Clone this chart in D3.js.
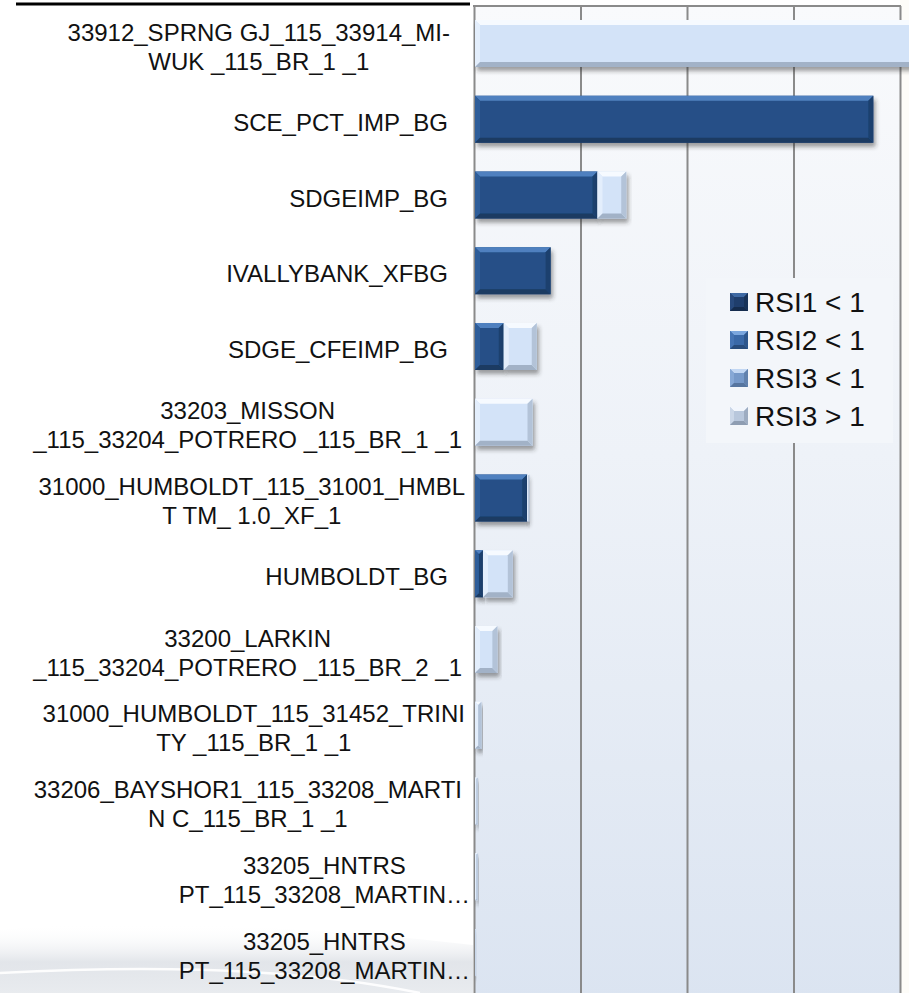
<!DOCTYPE html>
<html>
<head>
<meta charset="utf-8">
<script src="https://cdn.jsdelivr.net/npm/d3@7/dist/d3.min.js"></script>
<style>
  html, body { margin: 0; padding: 0; background: #ffffff; }
  svg { display: block; }
  text { font-family: "Liberation Sans", Arial, sans-serif; fill: #111; }
</style>
</head>
<body>
<svg id="chart" width="909" height="993"></svg>
<script>
// Branch / transformer names (line breaks follow the wrapped labels)
const categories = [
  "33912_SPRNG GJ_115_33914_MI-\nWUK  _115_BR_1 _1",
  "SCE_PCT_IMP_BG",
  "SDGEIMP_BG",
  "IVALLYBANK_XFBG",
  "SDGE_CFEIMP_BG",
  "33203_MISSON\n_115_33204_POTRERO _115_BR_1 _1",
  "31000_HUMBOLDT_115_31001_HMBL\nT TM_ 1.0_XF_1",
  "HUMBOLDT_BG",
  "33200_LARKIN\n_115_33204_POTRERO _115_BR_2 _1",
  "31000_HUMBOLDT_115_31452_TRINI\nTY _115_BR_1 _1",
  "33206_BAYSHOR1_115_33208_MARTI\nN C_115_BR_1 _1",
  "33205_HNTRS\nPT_115_33208_MARTIN\u2026",
  "33205_HNTRS\nPT_115_33208_MARTIN\u2026"
];

// Stacked series
const seriesNames = ["RSI1 < 1", "RSI2 < 1", "RSI3 < 1", "RSI3 > 1"];
const rsi1Below  = [0, 37.4, 11.5, 7.1, 2.7, 0, 4.9, 0.75, 0, 0, 0, 0, 0];
const rsi2Below  = [0, 0, 0, 0, 0, 0, 0, 0, 0, 0, 0, 0, 0];
const rsi3Below  = [0, 0, 0, 0, 0, 0, 0, 0, 0, 0, 0, 0, 0];
const rsi3Above  = [46, 0, 2.7, 0, 3.1, 5.4, 0.2, 2.8, 2.1, 0.6, 0.25, 0.25, 0.1];

// Value-axis gridline positions
const xTicks = [0, 10, 20, 30, 40];

// Right edge of each category label block
const labelRight = [450, 448, 448, 448, 448, 462, 465, 448, 462, 465, 462, 470, 470];

const rows = categories.map((c, i) => ({
  idx: i,
  "RSI1 < 1": rsi1Below[i],
  "RSI2 < 1": rsi2Below[i],
  "RSI3 < 1": rsi3Below[i],
  "RSI3 > 1": rsi3Above[i]
}));

// Fill shades per series: base, top, left, bottom, right
const palette = {
  "RSI1 < 1": { base: "#255087", top: "#4f80bf", left: "#2e5d99", bottom: "#1a3a62", right: "#1c416e" },
  "RSI2 < 1": { base: "#3d6daf", top: "#6d9ad6", left: "#4678bb", bottom: "#2b5184", right: "#2f5a94" },
  "RSI3 < 1": { base: "#7ea3d4", top: "#b0cbef", left: "#8cb0de", bottom: "#5d7ea9", right: "#6789b6" },
  "RSI3 > 1": { base: "#d3e3f8", top: "#f6faff", left: "#e3eefc", bottom: "#a2b2c7", right: "#b3c3d8" }
};
const legendPalette = {
  "RSI1 < 1": { base: "#1f3e6c", top: "#3e69a3", left: "#27497c", bottom: "#152c4d", right: "#183358" },
  "RSI2 < 1": { base: "#3a69a8", top: "#7aa6de", left: "#4574b4", bottom: "#284c7c", right: "#2d568c" },
  "RSI3 < 1": { base: "#7699c9", top: "#c2d7f3", left: "#86a8d6", bottom: "#56759f", right: "#6181ad" },
  "RSI3 > 1": { base: "#b8c7dc", top: "#f2f6fc", left: "#cbd7e8", bottom: "#8e9db2", right: "#9dacc1" }
};

const svg = d3.select("#chart");
const W = 909, H = 993;
const plot = { left: 474, right: 900, top: 6, bottom: 1000 };

const defs = svg.append("defs");
const bg = defs.append("linearGradient").attr("id", "plotBg")
  .attr("x1", 0).attr("y1", 0).attr("x2", 0).attr("y2", 1);
bg.append("stop").attr("offset", "0%").attr("stop-color", "#f9fafc");
bg.append("stop").attr("offset", "45%").attr("stop-color", "#eef2f8");
bg.append("stop").attr("offset", "100%").attr("stop-color", "#dbe4f1");

const swoosh = defs.append("linearGradient").attr("id", "swoosh")
  .attr("x1", 0).attr("y1", 0).attr("x2", 0).attr("y2", 1);
swoosh.append("stop").attr("offset", "0%").attr("stop-color", "#ffffff").attr("stop-opacity", 0);
swoosh.append("stop").attr("offset", "55%").attr("stop-color", "#d9dde3").attr("stop-opacity", 0.75);
swoosh.append("stop").attr("offset", "100%").attr("stop-color", "#e6e9ed").attr("stop-opacity", 0.9);

const shadow = defs.append("filter").attr("id", "barShadow")
  .attr("x", "-20%").attr("y", "-20%").attr("width", "140%").attr("height", "160%");
shadow.append("feDropShadow").attr("dx", 2).attr("dy", 4).attr("stdDeviation", 2.2)
  .attr("flood-color", "#2b2b2b").attr("flood-opacity", 0.45);

// Page background
svg.append("rect").attr("width", W).attr("height", H).attr("fill", "#ffffff");
svg.append("rect").attr("x", plot.right).attr("y", 0).attr("width", W - plot.right).attr("height", H)
  .attr("fill", "#fdfcf8");

// Soft decorative swoosh at bottom-left
svg.append("path")
  .attr("d", "M0,930 C120,918 300,925 473,945 L473,993 L0,993 Z")
  .attr("fill", "url(#swoosh)");
svg.append("path")
  .attr("d", "M0,973 C150,965 300,968 420,993")
  .attr("fill", "none").attr("stroke", "#ffffff").attr("stroke-width", 2.5).attr("opacity", 0.9);

// Heading rule
svg.append("line").attr("x1", 16).attr("x2", 470).attr("y1", 4).attr("y2", 4)
  .attr("stroke", "#000").attr("stroke-width", 3);

// Plot area
svg.append("rect").attr("x", plot.left).attr("y", plot.top)
  .attr("width", plot.right - plot.left).attr("height", plot.bottom - plot.top)
  .attr("fill", "url(#plotBg)");

const x = d3.scaleLinear().domain([0, 40]).range([plot.left, plot.right]);
const y = d3.scaleBand().domain(d3.range(categories.length))
  .range([5.6, 990.4]).paddingInner(0.38).paddingOuter(0.19);

// Vertical gridlines (value axis, labels hidden)
const grid = svg.append("g").attr("transform", `translate(0,${plot.top})`)
  .call(d3.axisTop(x).tickValues(xTicks).tickSize(-(plot.bottom - plot.top)).tickFormat(""));
grid.select(".domain").remove();
grid.selectAll(".tick line").attr("stroke", "#8a8a8a").attr("stroke-width", 2);
svg.append("line").attr("x1", plot.left - 1).attr("x2", plot.right + 1)
  .attr("y1", plot.top).attr("y2", plot.top).attr("stroke", "#8a8a8a").attr("stroke-width", 2);

// Beveled bar segment
function bevelRect(g, x0, y0, w, h, pal, bmax) {
  const b = Math.max(0, Math.min(bmax, w / 2, h / 2));
  g.append("rect").attr("x", x0).attr("y", y0).attr("width", w).attr("height", h).attr("fill", pal.base);
  const pts = a => a.map(p => p.join(",")).join(" ");
  g.append("polygon").attr("fill", pal.top)
    .attr("points", pts([[x0, y0], [x0 + w, y0], [x0 + w - b, y0 + b], [x0 + b, y0 + b]]));
  g.append("polygon").attr("fill", pal.left)
    .attr("points", pts([[x0, y0], [x0 + b, y0 + b], [x0 + b, y0 + h - b], [x0, y0 + h]]));
  g.append("polygon").attr("fill", pal.bottom)
    .attr("points", pts([[x0, y0 + h], [x0 + b, y0 + h - b], [x0 + w - b, y0 + h - b], [x0 + w, y0 + h]]));
  g.append("polygon").attr("fill", pal.right)
    .attr("points", pts([[x0 + w, y0], [x0 + w, y0 + h], [x0 + w - b, y0 + h - b], [x0 + w - b, y0 + b]]));
}

const stacked = d3.stack().keys(seriesNames)(rows);
const barLayer = svg.append("g");
stacked.forEach(layer => {
  const key = layer.key;
  layer.forEach((seg, i) => {
    const v = seg[1] - seg[0];
    if (v <= 0) return;
    const x0 = x(seg[0]) + 1, x1 = x(seg[1]) + 1;
    const g = barLayer.append("g").attr("filter", "url(#barShadow)");
    bevelRect(g, x0, y(i), x1 - x0, y.bandwidth(), palette[key], 5);
  });
});

// Category labels: wrapped lines centred on each other, block aligned to its right edge
const fs = 24, lh = 29;
const labelLayer = svg.append("g").attr("font-size", fs);
categories.forEach((c, i) => {
  const lines = c.split("\n");
  const g = labelLayer.append("g");
  const texts = lines.map(l => g.append("text").text(l));
  const maxW = d3.max(texts, t => t.node().getComputedTextLength());
  const cx = labelRight[i] - maxW / 2;
  const mid = y(i) + y.bandwidth() / 2 + 3;
  const firstCap = mid - (lines.length - 1) * lh / 2;
  texts.forEach((t, k) => {
    t.attr("x", cx).attr("text-anchor", "middle")
      .attr("y", firstCap + k * lh + fs * 0.716 / 2);
  });
});

// Legend
const lg = svg.append("g").attr("transform", "translate(706,278)");
lg.append("rect").attr("width", 187).attr("height", 165).attr("fill", "#f3f6fa");
seriesNames.forEach((name, k) => {
  const cy = 24 + k * 38;
  const sg = lg.append("g");
  bevelRect(sg, 24, cy - 9, 18, 18, legendPalette[name], 4);
  lg.append("text").attr("x", 49).attr("y", cy + 28 * 0.716 / 2)
    .attr("font-size", 28).text(name);
});
</script>
</body>
</html>
